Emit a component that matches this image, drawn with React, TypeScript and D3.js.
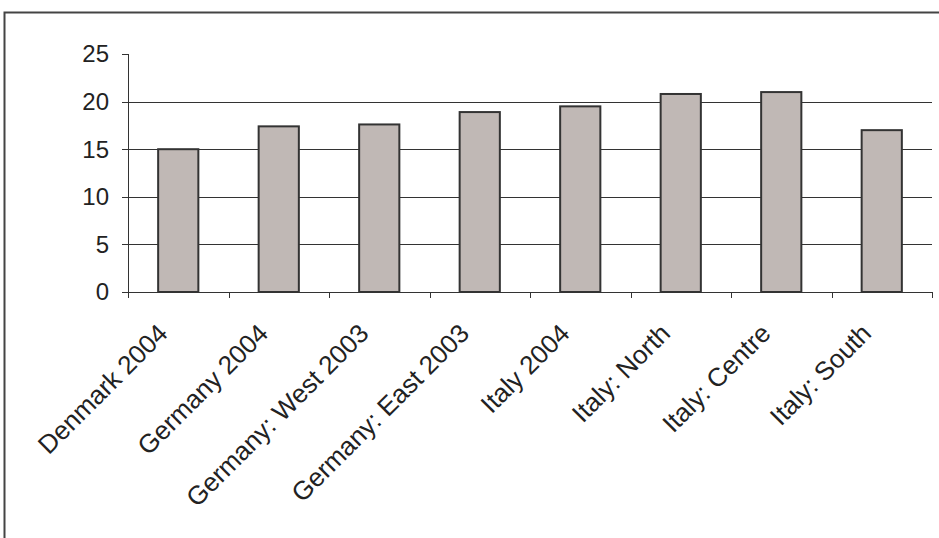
import React from "react";
import * as d3 from "d3";

const categories = [
  "Denmark 2004",
  "Germany 2004",
  "Germany: West 2003",
  "Germany: East 2003",
  "Italy 2004",
  "Italy: North",
  "Italy: Centre",
  "Italy: South",
];
const values = [15.0, 17.4, 17.6, 18.9, 19.5, 20.8, 21.0, 17.0];
const yTicks = [0, 5, 10, 15, 20, 25];

export default function App() {
  const W = 939;
  const H = 538;
  const left = 128;
  const right = 932;
  const top = 54;
  const bottom = 292;

  const x = d3.scaleBand<string>().domain(categories).range([left, right]).paddingInner(0).paddingOuter(0);
  const y = d3.scaleLinear().domain([0, 25]).range([bottom, top]);
  const bw = x.bandwidth() * 0.4;
  const font = "'Liberation Sans', Arial, sans-serif";

  return (
    <svg width={W} height={H} style={{ position: "absolute", left: 0, top: 0, background: "#fff" }}>
      {/* frame */}
      <path d={`M4.5,${H + 2} L4.5,12.5 L${W + 2},12.5`} fill="none" stroke="#444" strokeWidth={2} />
      {/* gridlines */}
      {yTicks.filter((t) => t > 0 && t < 25).map((t) => (
        <line key={"g" + t} x1={left} x2={right} y1={Math.round(y(t)) + 0.5} y2={Math.round(y(t)) + 0.5} stroke="#333" strokeWidth={1} />
      ))}
      {/* bars */}
      {categories.map((c, i) => {
        const cx = (x(c) as number) + x.bandwidth() / 2;
        return (
          <rect
            key={c}
            x={cx - bw / 2}
            y={y(values[i])}
            width={bw}
            height={bottom - y(values[i])}
            fill="#c0b8b5"
            stroke="#333"
            strokeWidth={2}
          />
        );
      })}
      {/* y axis */}
      <line x1={left + 0.5} x2={left + 0.5} y1={top} y2={bottom} stroke="#333" strokeWidth={1} />
      {yTicks.map((t) => (
        <g key={"y" + t}>
          <line x1={left - 6} x2={left} y1={Math.round(y(t)) + 0.5} y2={Math.round(y(t)) + 0.5} stroke="#333" strokeWidth={1} />
          <text x={109} y={y(t)} dy="0.35em" textAnchor="end" fontFamily={font} fontSize={24} fill="#222">
            {t}
          </text>
        </g>
      ))}
      {/* x axis */}
      <line x1={left} x2={right} y1={bottom + 0.5} y2={bottom + 0.5} stroke="#333" strokeWidth={1} />
      {d3.range(categories.length + 1).map((i) => {
        const tx = Math.round(left + i * x.bandwidth()) + 0.5;
        return <line key={"xt" + i} x1={tx} x2={tx} y1={bottom} y2={bottom + 6} stroke="#333" strokeWidth={1} />;
      })}
      {categories.map((c) => {
        const cx = (x(c) as number) + x.bandwidth() / 2;
        const ax = cx - 9;
        const ay = bottom + 43;
        return (
          <text
            key={"l" + c}
            x={ax}
            y={ay}
            textAnchor="end"
            transform={`rotate(-45 ${ax} ${ay})`}
            fontFamily={font}
            fontSize={26}
            fill="#222"
          >
            {c}
          </text>
        );
      })}
    </svg>
  );
}
